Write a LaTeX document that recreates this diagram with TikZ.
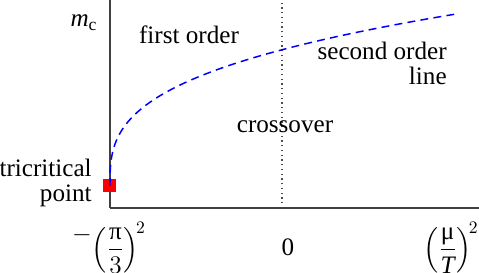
\documentclass[tikz,border=0pt]{standalone}
\usepackage{amsmath}
\usepackage{fontspec}
\setmainfont{Liberation Serif}
\usepackage{tikz}
\usepackage{xcolor}
\definecolor{axisgray}{HTML}{404040}

\begin{document}
\begin{tikzpicture}[
  lbl/.style={inner sep=0pt, font=\fontsize{14.3}{14.5}\selectfont},
  axisline/.style={axisgray, line width=0.85pt},
  zeroline/.style={black!70, dotted, line width=0.7pt},
  critline/.style={blue, line width=0.85pt, dash pattern=on 4.5pt off 3pt},
  tcpbox/.style={fill=red, draw=none, minimum size=0.26cm, inner sep=0pt}
]
\useasboundingbox (-2.2,-1.3) rectangle (7.38,4.16);

% axes and the mu = 0 line
\coordinate (o) at (0,0);
\coordinate (ytop) at (0,4.16);
\coordinate (xend) at (7.38,0);
\coordinate (ztop) at (3.44,4.16);
\coordinate (zbot) at (3.44,0);
\draw[zeroline] (zbot) -- (ztop);
\draw[axisline] (o) -- (ytop);
\draw[axisline] (o) -- (xend);

% tricritical point and the second order line
\node[tcpbox] (tcp) at (0,0.44) {};
\draw[critline] plot[domain=0:1.904, samples=80, variable=\t] ({\t*\t*\t}, {0.44+1.805*\t});

% region labels
\node[lbl] (mc) at (-0.52,3.7) {$\mathit{m}_{\mathrm{c}}$};
\node[lbl] (first) at (1.58,3.46) {first order};
\node[lbl, anchor=east, align=right] (second) at (6.74,2.89) {second order\\line};
\node[lbl] (cross) at (3.5,1.62) {crossover};
\node[lbl, anchor=east, align=right] (tcplbl) at (-0.36,0.5) {tricritical\\point};

% ticks on the mu axis
\node[lbl] (xleft) at (-0.02,-0.8) {\raisebox{0.6em}[0pt][0pt]{$-$}$\left(\dfrac{\text{π}}{3}\right)^{\!2}$};
\node[lbl] (xzero) at (3.56,-0.78) {0};
\node[lbl] (xright) at (6.82,-0.8) {$\left(\dfrac{\text{μ}}{\mathit{T}}\right)^{\!2}$};

\end{tikzpicture}
\end{document}
